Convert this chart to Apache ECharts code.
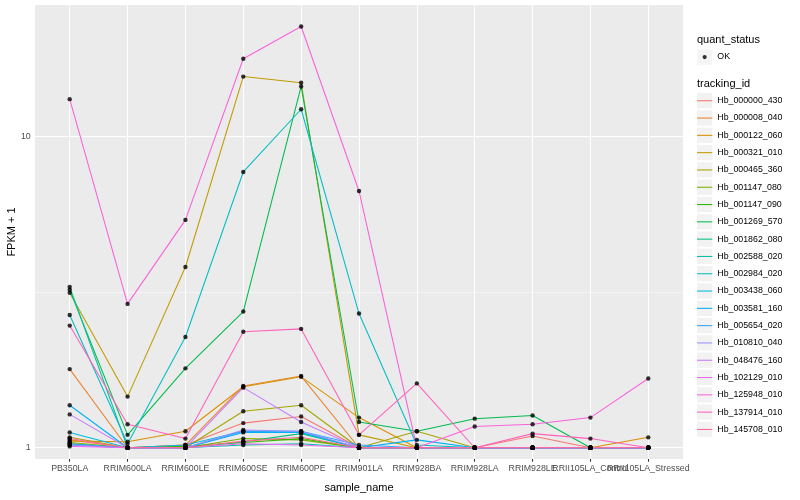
<!DOCTYPE html>
<html><head><meta charset="utf-8">
<script src="https://cdn.jsdelivr.net/npm/echarts@6/dist/echarts.min.js"></script>
<style>html,body{margin:0;padding:0;background:#fff}#chart{width:800px;height:500px}</style>
</head><body><div id="chart"></div>
<script>
const samples = ['PB350LA','RRIM600LA','RRIM600LE','RRIM600SE','RRIM600PE','RRIM901LA','RRIM928BA','RRIM928LA','RRIM928LE','RRII105LA_Control','RRII105LA_Stressed'];
const trackingIds = ['Hb_000000_430','Hb_000008_040','Hb_000122_060','Hb_000321_010','Hb_000465_360','Hb_001147_080','Hb_001147_090','Hb_001269_570','Hb_001862_080','Hb_002588_020','Hb_002984_020','Hb_003438_060','Hb_003581_160','Hb_005654_020','Hb_010810_040','Hb_048476_160','Hb_102129_010','Hb_125948_010','Hb_137914_010','Hb_145708_010'];
const colors = ['#F8766D','#EA8331','#D89000','#C09B00','#A3A500','#7CAE00','#39B600','#00BB4E','#00BF7D','#00C1A3','#00BFC4','#00BAE0','#00B0F6','#35A2FF','#9590FF','#C77CFF','#E76BF3','#FA62DB','#FF62BC','#FF6C91'];

const hb_000000_430 = [1.06, 1.00, 1.02, 1.20, 1.26, 1.00, 1.00, 1.00, 1.09, 1.00, 1.00];
const hb_000008_040 = [1.79, 1.00, 1.02, 1.58, 1.70, 1.00, 1.00, 1.00, 1.00, 1.00, 1.00];
const hb_000122_060 = [1.05, 1.045, 1.13, 1.57, 1.69, 1.25, 1.00, 1.00, 1.00, 1.00, 1.08];
const hb_000321_010 = [3.15, 1.46, 3.81, 15.6, 14.9, 1.10, 1.00, 1.00, 1.00, 1.00, 1.00];
const hb_000465_360 = [1.08, 1.00, 1.00, 1.31, 1.37, 1.00, 1.13, 1.00, 1.00, 1.00, 1.00];
const hb_001147_080 = [1.04, 1.00, 1.00, 1.07, 1.06, 1.00, 1.00, 1.00, 1.00, 1.00, 1.00];
const hb_001147_090 = [1.03, 1.00, 1.01, 1.04, 1.07, 1.00, 1.00, 1.00, 1.00, 1.00, 1.00];
const hb_001269_570 = [3.22, 1.10, 1.80, 2.74, 14.5, 1.21, 1.13, 1.24, 1.27, 1.00, 1.00];
const hb_001862_080 = [1.02, 1.00, 1.00, 1.045, 1.11, 1.00, 1.00, 1.00, 1.00, 1.00, 1.00];
const hb_002588_020 = [3.29, 1.00, 1.00, 1.02, 1.03, 1.00, 1.00, 1.00, 1.00, 1.00, 1.00];
const hb_002984_020 = [2.67, 1.03, 2.27, 7.70, 12.25, 2.70, 1.02, 1.00, 1.00, 1.00, 1.00];
const hb_003438_060 = [1.12, 1.00, 1.02, 1.13, 1.12, 1.00, 1.00, 1.00, 1.00, 1.00, 1.00];
const hb_003581_160 = [1.37, 1.00, 1.00, 1.12, 1.12, 1.00, 1.06, 1.00, 1.00, 1.00, 1.00];
const hb_005654_020 = [1.03, 1.00, 1.00, 1.13, 1.13, 1.02, 1.00, 1.00, 1.00, 1.00, 1.00];
const hb_010810_040 = [1.02, 1.00, 1.00, 1.14, 1.13, 1.00, 1.00, 1.00, 1.00, 1.00, 1.00];
const hb_048476_160 = [1.28, 1.00, 1.00, 1.56, 1.21, 1.00, 1.00, 1.00, 1.00, 1.00, 1.00];
const hb_102129_010 = [1.01, 1.00, 1.00, 1.03, 1.02, 1.00, 1.00, 1.00, 1.00, 1.00, 1.00];
const hb_125948_010 = [13.2, 2.90, 5.40, 17.8, 22.6, 6.69, 1.00, 1.17, 1.19, 1.25, 1.67];
const hb_137914_010 = [2.47, 1.19, 1.07, 2.36, 2.41, 1.10, 1.61, 1.00, 1.11, 1.07, 1.00];
const hb_145708_010 = [1.07, 1.00, 1.00, 1.05, 1.08, 1.00, 1.00, 1.00, 1.00, 1.00, 1.00];

const seriesValues = [hb_000000_430, hb_000008_040, hb_000122_060, hb_000321_010, hb_000465_360, hb_001147_080, hb_001147_090, hb_001269_570, hb_001862_080, hb_002588_020, hb_002984_020, hb_003438_060, hb_003581_160, hb_005654_020, hb_010810_040, hb_048476_160, hb_102129_010, hb_125948_010, hb_137914_010, hb_145708_010];

const yTicks = [1, 10];
const yMinorTicks = [3.1623];

const FONT = '"Liberation Sans", Arial, sans-serif';
const xIdx = samples.map((s, i) => i);
// labels split over two axes so that overlapping labels are all drawn, as in the original
const xIdxOdd = xIdx.filter(i => i === samples.length - 2);
const xIdxMain = xIdx.filter(i => i !== samples.length - 2);

const lineSeries = trackingIds.map((id, k) => ({
  name: id, type: 'line',
  data: seriesValues[k].map((v, i) => [i, v]),
  showSymbol: false, symbol: 'none',
  lineStyle: { color: colors[k], width: 1.07 },
  itemStyle: { color: colors[k] },
  z: 2, silent: true, animation: false, emphasis: { disabled: true }
}));

const points = [];
seriesValues.forEach(vals => vals.forEach((v, i) => points.push([i, v])));

const gridLineData = []
  .concat(yTicks.map(t => ({ yAxis: t, lineStyle: { color: '#FFFFFF', width: 1.07, type: 'solid' } })))
  .concat(yMinorTicks.map(t => ({ yAxis: t, lineStyle: { color: '#FFFFFF', width: 0.53, type: 'solid' } })))
  .concat(xIdx.map(i => ({ xAxis: i, lineStyle: { color: '#FFFFFF', width: 1.07, type: 'solid' } })));

const okSeries = {
  name: 'OK', type: 'scatter', data: points, symbol: 'circle', symbolSize: 4.4,
  itemStyle: { color: '#000000' }, z: 3, silent: true, animation: false,
  emphasis: { disabled: true },
  markLine: {
    silent: true, symbol: 'none', z: 1, animation: false,
    label: { show: false }, emphasis: { disabled: true },
    data: gridLineData
  }
};

const linePath = 'path://M0,0 M16,16 M0,7.5 L16,7.5 L16,8.6 L0,8.6 Z';
const dotPath = 'path://M0,0 M16,16 M5.8,8 A2.2,2.2 0 1,0 10.2,8 A2.2,2.2 0 1,0 5.8,8 Z';

const legendCommon = {
  orient: 'vertical', left: 697, itemWidth: 15.3, itemHeight: 15.3, itemGap: 2,
  padding: 0, selectedMode: false,
  textStyle: { fontSize: 8.8, color: '#000000', fontFamily: FONT }
};

const axisLabelStyle = { fontSize: 8.8, color: '#4D4D4D', margin: 5, hideOverlap: false, showMinLabel: true, showMaxLabel: true, fontFamily: FONT };

const option = {
  backgroundColor: '#FFFFFF',
  animation: false,
  textStyle: { fontFamily: FONT },
  title: [
    { text: 'quant_status', left: 697, top: 34, padding: 0, textStyle: { fontSize: 11, fontWeight: 'normal', color: '#000000', fontFamily: FONT } },
    { text: 'tracking_id', left: 697, top: 78, padding: 0, textStyle: { fontSize: 11, fontWeight: 'normal', color: '#000000', fontFamily: FONT } }
  ],
  legend: [
    Object.assign({}, legendCommon, { data: ['OK'], top: 49.4, icon: 'rect', itemStyle: { color: '#F2F2F2', borderWidth: 0 } }),
    Object.assign({}, legendCommon, { data: ['OK'], top: 49.4, icon: dotPath, z: 6, itemStyle: { color: '#000000', borderWidth: 0 }, textStyle: { fontSize: 8.8, color: 'rgba(0,0,0,0)', fontFamily: FONT } }),
    Object.assign({}, legendCommon, { data: trackingIds, top: 93.05, icon: 'rect', itemStyle: { color: '#F2F2F2', borderWidth: 0 } }),
    Object.assign({}, legendCommon, { data: trackingIds.map((id, k) => ({ name: id, itemStyle: { color: colors[k], borderWidth: 0 } })), top: 93.05, icon: linePath, z: 6, textStyle: { fontSize: 8.8, color: 'rgba(0,0,0,0)', fontFamily: FONT } })
  ],
  grid: { left: 35, top: 5, right: 117, bottom: 41, show: true, backgroundColor: '#EBEBEB', borderWidth: 0, containLabel: false, outerBoundsMode: 'none' },
  xAxis: [{
    type: 'value', min: -0.6, max: 10.6, position: 'bottom',
    axisLine: { show: false }, splitLine: { show: false },
    axisTick: { show: true, customValues: xIdx, length: 2.75, lineStyle: { color: '#333333', width: 1.07 } },
    axisLabel: Object.assign({ customValues: xIdxMain, formatter: v => samples[Math.round(v)] }, axisLabelStyle),
    name: 'sample_name', nameLocation: 'middle', nameGap: 23, nameMoveOverlap: false,
    nameTextStyle: { fontSize: 11, color: '#000000', fontFamily: FONT }
  }, {
    type: 'value', min: -0.6, max: 10.6, position: 'bottom', offset: 0,
    axisLine: { show: false }, splitLine: { show: false }, axisTick: { show: false },
    axisLabel: Object.assign({ customValues: xIdxOdd, formatter: v => samples[Math.round(v)] }, axisLabelStyle)
  }],
  yAxis: {
    type: 'log', logBase: 10, min: 0.92, max: 26.5,
    axisLine: { show: false }, splitLine: { show: false }, minorSplitLine: { show: false },
    axisTick: { show: true, customValues: yTicks, length: 2.75, lineStyle: { color: '#333333', width: 1.07 } },
    axisLabel: { customValues: yTicks, formatter: v => String(Math.round(v)), fontSize: 8.8, color: '#4D4D4D', margin: 4.3, fontFamily: FONT },
    name: 'FPKM + 1', nameLocation: 'middle', nameGap: 18, nameRotate: 90, nameMoveOverlap: false,
    nameTextStyle: { fontSize: 11, color: '#000000', fontFamily: FONT }
  },
  series: lineSeries.concat([okSeries])
};

const chart = echarts.init(document.getElementById('chart'), null, { renderer: 'canvas' });
chart.setOption(option);
</script>
</body></html>
